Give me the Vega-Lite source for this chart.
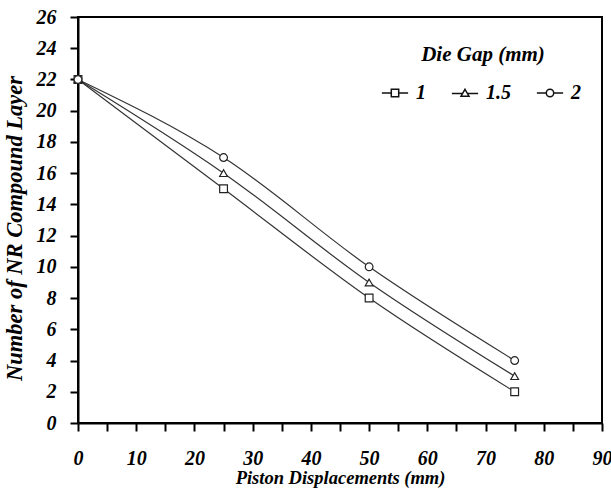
{
  "$schema": "https://vega.github.io/schema/vega-lite/v6.json",
  "width": 524,
  "height": 406,
  "autosize": {"type": "none"},
  "padding": {"left": 78, "top": 17, "right": 9, "bottom": 67},
  "background": "white",
  "config": {
    "view": {"stroke": "black", "strokeWidth": 2},
    "font": "Liberation Serif"
  },
  "data": {
    "values": [
      {"disp": 0, "layers": 22, "gap": "1"},
      {"disp": 25, "layers": 15, "gap": "1"},
      {"disp": 50, "layers": 8, "gap": "1"},
      {"disp": 75, "layers": 2, "gap": "1"},
      {"disp": 0, "layers": 22, "gap": "1.5"},
      {"disp": 25, "layers": 16, "gap": "1.5"},
      {"disp": 50, "layers": 9, "gap": "1.5"},
      {"disp": 75, "layers": 3, "gap": "1.5"},
      {"disp": 0, "layers": 22, "gap": "2"},
      {"disp": 25, "layers": 17, "gap": "2"},
      {"disp": 50, "layers": 10, "gap": "2"},
      {"disp": 75, "layers": 4, "gap": "2"}
    ]
  },
  "encoding": {
    "x": {
      "field": "disp", "type": "quantitative",
      "scale": {"domain": [0, 90], "nice": false},
      "axis": {
        "title": "Piston Displacements (mm)",
        "values": [0,5,10,15,20,25,30,35,40,45,50,55,60,65,70,75,80,85,90],
        "labelExpr": "datum.value % 10 === 0 ? datum.label : ''",
        "grid": false,
        "domainColor": "black", "domainWidth": 2,
        "tickColor": "black", "tickWidth": 2, "tickSize": 8,
        "labelFont": "Liberation Serif", "labelFontSize": 20, "labelFontWeight": "bold", "labelFontStyle": "italic",
        "labelColor": "black", "labelPadding": 17, "labelFlush": false,
        "titleFont": "Liberation Serif", "titleFontSize": 18.5, "titleFontWeight": "bold", "titleFontStyle": "italic",
        "titleColor": "black", "titlePadding": 0
      }
    },
    "y": {
      "field": "layers", "type": "quantitative",
      "scale": {"domain": [0, 26], "nice": false},
      "axis": {
        "title": "Number of NR Compound Layer",
        "values": [0,2,4,6,8,10,12,14,16,18,20,22,24,26],
        "grid": false,
        "domainColor": "black", "domainWidth": 2,
        "tickColor": "black", "tickWidth": 2, "tickSize": 8,
        "labelFont": "Liberation Serif", "labelFontSize": 20, "labelFontWeight": "bold", "labelFontStyle": "italic",
        "labelColor": "black", "labelPadding": 14, "labelFlush": false,
        "titleFont": "Liberation Serif", "titleFontSize": 22.5, "titleFontWeight": "bold", "titleFontStyle": "italic",
        "titleColor": "black", "titlePadding": 1, "titleY": 211, "titleX": -52
      }
    }
  },
  "layer": [
    {
      "mark": {"type": "line", "interpolate": "monotone", "color": "#333333", "strokeWidth": 1.2},
      "encoding": {"detail": {"field": "gap"}}
    },
    {
      "mark": {"type": "point", "filled": false, "fill": "white", "fillOpacity": 1, "color": "#222222", "strokeWidth": 1.2, "size": 60, "opacity": 1},
      "encoding": {
        "shape": {
          "field": "gap", "type": "nominal",
          "scale": {"domain": ["1", "1.5", "2"], "range": ["square", "triangle-up", "circle"]},
          "legend": null
        }
      }
    },
    {
      "mark": {"type": "point", "filled": false, "fill": "white", "fillOpacity": 1, "color": "#111111", "strokeWidth": 1, "size": 0, "opacity": 1},
      "encoding": {
        "shape": {
          "field": "gap", "type": "nominal",
          "scale": {"domain": ["1", "1.5", "2"], "range": [
            "M-2.3,0H-0.65M0.65,0H2.3M-0.65,-0.65H0.65V0.65H-0.65Z",
            "M-2.3,0.1H-0.45M0.45,0.1H2.3M0,-0.65L0.7,0.55H-0.7Z",
            "M-2.3,0H-0.65M0.65,0H2.3M0.65,0A0.65,0.65,0,1,1,-0.65,0A0.65,0.65,0,1,1,0.65,0Z"
          ]},
          "legend": {
            "title": "Die Gap (mm)",
            "orient": "none",
            "legendX": 307,
            "legendY": 27,
            "direction": "horizontal",
            "titleAnchor": "middle",
            "titleFont": "Liberation Serif", "titleFontSize": 21, "titleFontWeight": "bold", "titleFontStyle": "italic",
            "titleColor": "black", "titlePadding": 18,
            "labelFont": "Liberation Serif", "labelFontSize": 20, "labelFontWeight": "bold", "labelFontStyle": "italic",
            "labelColor": "black", "labelOffset": 11,
            "symbolSize": 130,
            "columnPadding": 22
          }
        }
      }
    }
  ],
  "resolve": {"scale": {"shape": "independent"}}
}
